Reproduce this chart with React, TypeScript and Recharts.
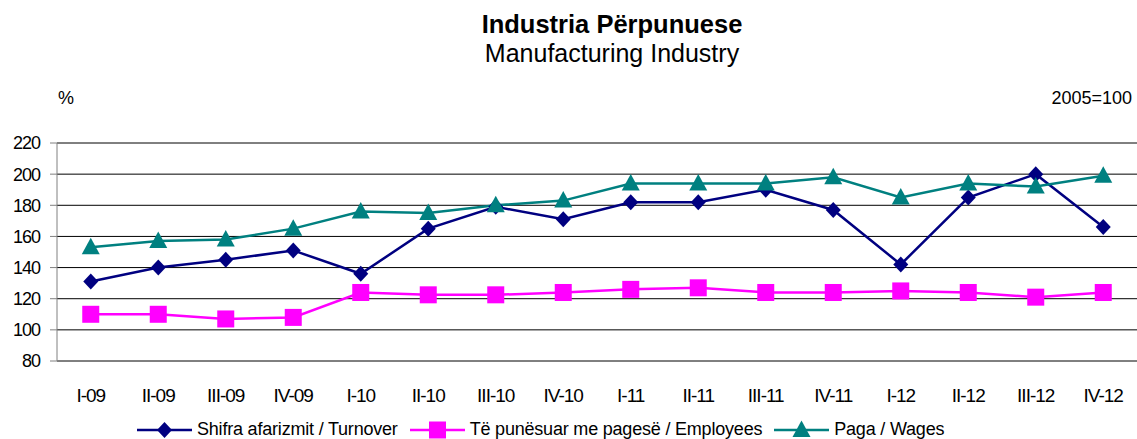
import React from "react";
import { LineChart, Line, XAxis, YAxis, CartesianGrid, ReferenceLine, Legend } from "recharts";

const FONT = '"Liberation Sans", Arial, sans-serif';

const categories = ["I-09", "II-09", "III-09", "IV-09", "I-10", "II-10", "III-10", "IV-10", "I-11", "II-11", "III-11", "IV-11", "I-12", "II-12", "III-12", "IV-12"];
const turnover = [131, 140, 145, 151, 136, 165, 179, 171, 182, 182, 190, 177, 142, 185, 200, 166];
const employees = [110, 110, 107, 108, 124, 122.5, 122.5, 124, 126, 127, 124, 124, 125, 124, 121, 124];
const wages = [153, 157, 158, 165, 176, 175, 180, 183, 194, 194, 194, 198, 185, 194, 192, 199];
const yTicks = [80, 100, 120, 140, 160, 180, 200, 220];

const NAVY = "#000080";
const MAGENTA = "#FF00FF";
const TEAL = "#008080";

const data = categories.map((label, i) => ({
  i,
  label,
  turnover: turnover[i],
  employees: employees[i],
  wages: wages[i],
}));

// category boundaries, for the tick marks between labels
const boundaries = [...categories.map((_, k) => k - 0.5), categories.length - 0.5];
const labelTicks = categories.map((_, k) => k);

const diamond = (cx: number, cy: number, color: string, key?: any) => (
  <path key={key} d={`M${cx},${cy - 8}L${cx + 7.5},${cy}L${cx},${cy + 8}L${cx - 7.5},${cy}Z`} fill={color} stroke="none" />
);
const square = (cx: number, cy: number, color: string, key?: any) => (
  <rect key={key} x={cx - 8.5} y={cy - 8.5} width={17} height={17} fill={color} stroke="none" />
);
const triangle = (cx: number, cy: number, color: string, key?: any) => (
  <path key={key} d={`M${cx},${cy - 9.5}L${cx + 9},${cy + 7}L${cx - 9},${cy + 7}Z`} fill={color} stroke="none" />
);

const series = [
  { key: "turnover", name: "Shifra afarizmit / Turnover", color: NAVY, shape: diamond },
  { key: "employees", name: "Të punësuar me pagesë / Employees", color: MAGENTA, shape: square },
  { key: "wages", name: "Paga / Wages", color: TEAL, shape: triangle },
];

const YTick = (props: any) => {
  const { x, y, payload } = props;
  return (
    <text x={x} y={y} dy="0.36em" textAnchor="end" fontSize={18} fill="#000" fontFamily={FONT} letterSpacing={-1}>
      {payload.value}
    </text>
  );
};

const XTick = (props: any) => {
  const { x, y, payload } = props;
  return (
    <text x={x} y={y} dy={41} textAnchor="middle" fontSize={19} fill="#000" fontFamily={FONT} letterSpacing={-1}>
      {categories[payload.value]}
    </text>
  );
};

const LegendContent = () => (
  <div style={{ display: "flex", alignItems: "center", paddingLeft: 137, fontFamily: FONT, fontSize: 18, color: "#000", letterSpacing: -0.2 }}>
    {series.map((s) => (
      <div key={s.key} style={{ display: "flex", alignItems: "center", marginRight: 12 }}>
        <svg width={55} height={20} style={{ marginRight: 5 }}>
          <line x1={0} y1={10} x2={55} y2={10} stroke={s.color} strokeWidth={2.5} />
          {s.shape(27.5, 10, s.color)}
        </svg>
        <span>{s.name}</span>
      </div>
    ))}
  </div>
);

export default function App() {
  return (
    <div style={{ position: "absolute", left: 0, top: 0, width: 1137, height: 439, background: "#fff" }}>
      <svg width={1137} height={120} style={{ position: "absolute", left: 0, top: 0 }}>
        <text x={612} y={33} textAnchor="middle" fontFamily={FONT} fontWeight="bold" fontSize={25.5} fill="#000">
          Industria Përpunuese
        </text>
        <text x={612} y={62} textAnchor="middle" fontFamily={FONT} fontSize={25} fill="#000">
          Manufacturing Industry
        </text>
        <text x={58} y={104} fontFamily={FONT} fontSize={18} fill="#000">%</text>
        <text x={1132} y={104} textAnchor="end" fontFamily={FONT} fontSize={18} fill="#000">2005=100</text>
      </svg>
      <LineChart width={1137} height={439} data={data} margin={{ top: 143, right: 0, bottom: 0, left: 0 }}>
        <CartesianGrid xAxisId="m" vertical={false} stroke="#000" strokeWidth={1} />
        <XAxis
          xAxisId="m"
          dataKey="i"
          type="number"
          domain={[-0.5, categories.length - 0.5]}
          ticks={boundaries}
          interval={0}
          allowDataOverflow
          height={0}
          stroke="#808080"
          tickSize={7}
          tickFormatter={() => ""}
        />
        <XAxis
          xAxisId="lab"
          dataKey="i"
          type="number"
          domain={[-0.5, categories.length - 0.5]}
          ticks={labelTicks}
          interval={0}
          allowDataOverflow
          height={78}
          axisLine={false}
          tickLine={false}
          tickSize={0}
          tickMargin={0}
          tick={<XTick />}
        />
        <YAxis
          domain={[80, 220]}
          ticks={yTicks}
          interval={0}
          width={57}
          stroke="#808080"
          tickSize={7}
          tickMargin={10}
          tick={<YTick />}
        />
        <ReferenceLine xAxisId="m" y={220} stroke="#808080" />
        <ReferenceLine xAxisId="m" y={80} stroke="#808080" />
        {series.map((s) => (
          <Line
            key={s.key}
            xAxisId="m"
            type="linear"
            dataKey={s.key}
            name={s.name}
            stroke={s.color}
            strokeWidth={2.5}
            dot={(p: any) => s.shape(p.cx, p.cy, s.color, p.key ?? `${s.key}-${p.index}`)}
            activeDot={false}
            isAnimationActive={false}
          />
        ))}
        <Legend
          layout="horizontal"
          verticalAlign="middle"
          align="center"
          content={<LegendContent />}
          wrapperStyle={{ position: "absolute", left: 0, top: 419, width: 1137 }}
        />
      </LineChart>
    </div>
  );
}
